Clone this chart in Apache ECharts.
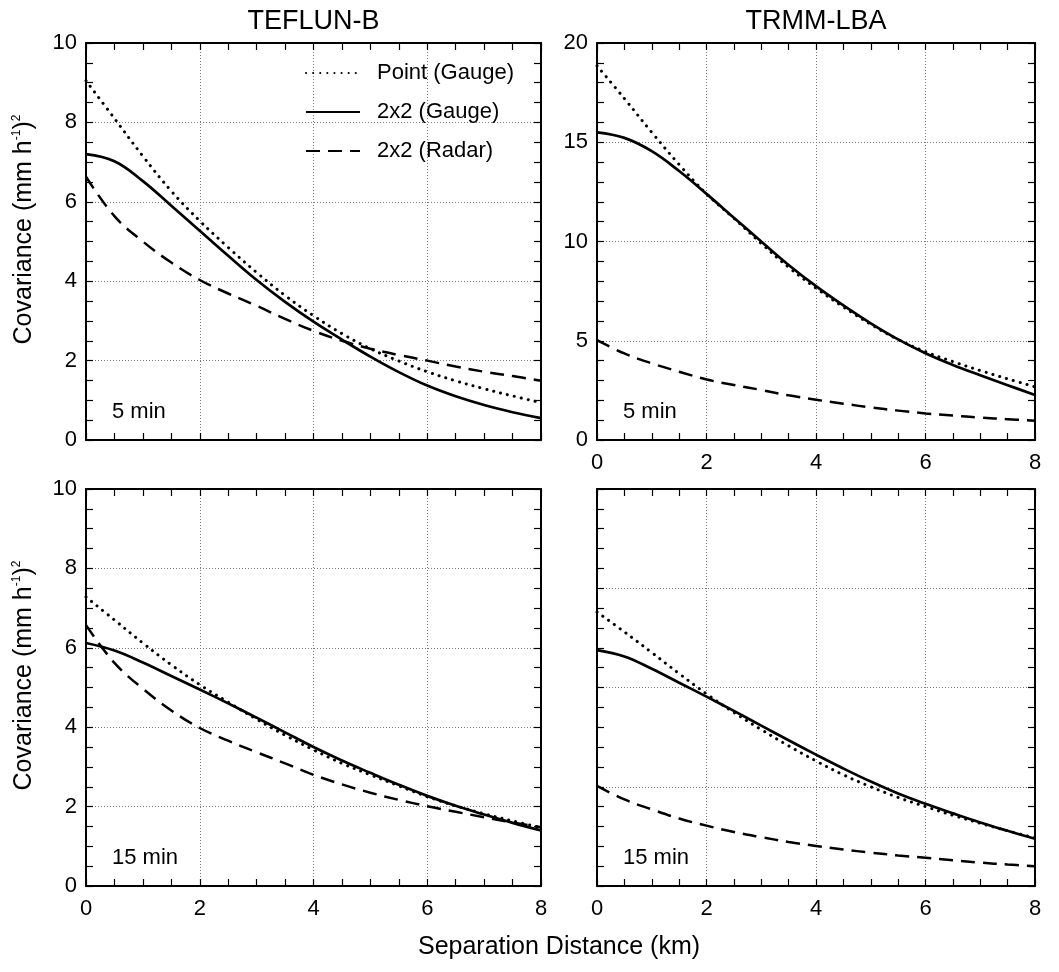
<!DOCTYPE html>
<html>
<head>
<meta charset="utf-8">
<title>Covariance vs separation distance</title>
<script src="https://cdn.jsdelivr.net/npm/echarts@6/dist/echarts.min.js"></script>
<style>
  html, body { margin: 0; padding: 0; background: #fff; }
  #chart { width: 1059px; height: 972px; }
</style>
</head>
<body>
<div id="chart"></div>
<script>
// Separation distance samples (km)
const distKm = [0, 0.5, 1, 1.5, 2, 2.5, 3, 3.5, 4, 4.5, 5, 5.5, 6, 6.5, 7, 7.5, 8];

// TEFLUN-B, 5 min accumulation
const teflun5Point = [9.05, 8.1, 7.15, 6.27, 5.52, 4.85, 4.22, 3.64, 3.13, 2.68, 2.3, 1.99, 1.72, 1.49, 1.29, 1.11, 0.94];
const teflun5Gauge = [7.2, 7.02, 6.52, 5.9, 5.27, 4.64, 4.03, 3.48, 2.98, 2.53, 2.1, 1.71, 1.37, 1.1, 0.88, 0.7, 0.55];
const teflun5Radar = [6.63, 5.64, 5.0, 4.47, 4.03, 3.69, 3.38, 3.05, 2.75, 2.5, 2.3, 2.14, 2.0, 1.85, 1.72, 1.61, 1.49];

// TRMM-LBA, 5 min accumulation
const lba5Point = [18.85, 17.2, 15.5, 13.88, 12.4, 11.17, 9.9, 8.7, 7.65, 6.7, 5.83, 5.06, 4.45, 3.95, 3.5, 3.08, 2.68];
const lba5Gauge = [15.5, 15.22, 14.55, 13.55, 12.4, 11.2, 10.0, 8.82, 7.75, 6.78, 5.88, 5.07, 4.37, 3.78, 3.26, 2.76, 2.27];
const lba5Radar = [5.03, 4.36, 3.86, 3.44, 3.05, 2.77, 2.52, 2.25, 2.03, 1.83, 1.64, 1.48, 1.34, 1.23, 1.13, 1.05, 0.97];

// TEFLUN-B, 15 min accumulation
const teflun15Point = [7.28, 6.7, 6.12, 5.57, 5.07, 4.63, 4.2, 3.8, 3.43, 3.09, 2.8, 2.52, 2.25, 2.02, 1.82, 1.64, 1.47];
const teflun15Gauge = [6.12, 5.93, 5.63, 5.29, 4.95, 4.6, 4.24, 3.87, 3.5, 3.16, 2.85, 2.55, 2.27, 2.02, 1.8, 1.59, 1.4];
const teflun15Radar = [6.57, 5.62, 4.97, 4.42, 3.98, 3.66, 3.37, 3.09, 2.8, 2.56, 2.35, 2.17, 2.01, 1.87, 1.73, 1.6, 1.48];

// TRMM-LBA, 15 min accumulation
const lba15Point = [6.9, 6.4, 5.88, 5.35, 4.84, 4.37, 3.94, 3.53, 3.15, 2.8, 2.5, 2.23, 2.0, 1.78, 1.58, 1.39, 1.21];
const lba15Gauge = [5.94, 5.78, 5.47, 5.12, 4.77, 4.41, 4.04, 3.67, 3.31, 2.96, 2.63, 2.33, 2.07, 1.83, 1.6, 1.39, 1.19];
const lba15Radar = [2.52, 2.18, 1.93, 1.7, 1.52, 1.36, 1.23, 1.11, 1.01, 0.92, 0.84, 0.77, 0.71, 0.65, 0.59, 0.54, 0.5];

// Axis ticks and labels
const xTicksKm = [0, 2, 4, 6, 8];
const yTicksTeflun = [0, 2, 4, 6, 8, 10];
const yTicksLba5 = [0, 5, 10, 15, 20];

const seriesNames = ['Point (Gauge)', '2x2 (Gauge)', '2x2 (Radar)'];
const columnTitles = ['TEFLUN-B', 'TRMM-LBA'];
const periodLabels = ['5 min', '5 min', '15 min', '15 min'];
const xAxisTitle = 'Separation Distance (km)';

const FONT = '"Liberation Sans", Arial, Helvetica, sans-serif';

// Panel layout: [top-left, top-right, bottom-left, bottom-right]
const panels = [
  { box: { left: 86, top: 43, width: 455, height: 397 }, data: [teflun5Point, teflun5Gauge, teflun5Radar],
    y: { max: 10, interval: 2, minor: 4, labels: true, ticks: yTicksTeflun }, xLabels: false, yName: true },
  { box: { left: 597, top: 43, width: 438, height: 397 }, data: [lba5Point, lba5Gauge, lba5Radar],
    y: { max: 20, interval: 5, minor: 5, labels: true, ticks: yTicksLba5 }, xLabels: true, yName: false },
  { box: { left: 86, top: 489, width: 455, height: 397 }, data: [teflun15Point, teflun15Gauge, teflun15Radar],
    y: { max: 10, interval: 2, minor: 4, labels: true, ticks: yTicksTeflun }, xLabels: true, yName: true },
  { box: { left: 597, top: 489, width: 438, height: 397 }, data: [lba15Point, lba15Gauge, lba15Radar],
    y: { max: 10, interval: 2.5, minor: 5, labels: false, ticks: [] }, xLabels: true, yName: false }
];

const lineStyles = [
  { color: '#000', width: 3, type: [0.1, 7], cap: 'round' },
  { color: '#000', width: 2.7, type: 'solid' },
  { color: '#000', width: 2.5, type: [14, 8] }
];

const frameLine = { show: true, onZero: false, lineStyle: { color: '#000', width: 2 } };
const tickStyle = { show: true, inside: true, length: 7, lineStyle: { color: '#000', width: 1.2 } };
const gridLine = { show: true, lineStyle: { color: '#7a7a7a', width: 1, type: [1, 2] } };
const labelText = { color: '#000', fontFamily: FONT, fontSize: 22 };
const minorTickOf = n => ({ show: true, splitNumber: n, length: 7, lineStyle: { color: '#000', width: 1.2 } });

const grids = [], xAxes = [], yAxes = [], series = [];

panels.forEach((p, i) => {
  grids.push(Object.assign({ containLabel: false }, p.box));
  // bottom and top x axes (frame + inward ticks)
  xAxes.push({
    type: 'value', gridIndex: i, position: 'bottom', min: 0, max: 8, interval: 2,
    axisLine: frameLine, axisTick: tickStyle, minorTick: minorTickOf(4),
    splitLine: gridLine,
    axisLabel: Object.assign({ show: p.xLabels, margin: 12,
      formatter: v => (xTicksKm.indexOf(v) >= 0 ? String(v) : '') }, labelText)
  });
  xAxes.push({
    type: 'value', gridIndex: i, position: 'top', min: 0, max: 8, interval: 2,
    axisLine: frameLine, axisTick: tickStyle, minorTick: minorTickOf(4),
    splitLine: { show: false }, axisLabel: { show: false }
  });
  // left and right y axes
  yAxes.push({
    type: 'value', gridIndex: i, position: 'left', min: 0, max: p.y.max, interval: p.y.interval,
    axisLine: frameLine, axisTick: tickStyle, minorTick: minorTickOf(p.y.minor),
    splitLine: gridLine,
    axisLabel: Object.assign({ show: p.y.labels, margin: 9,
      formatter: v => (p.y.ticks.indexOf(v) >= 0 ? String(v) : '') }, labelText),
    name: p.yName ? '{a|Covariance (mm h}{s|-1}{a|)}{s|2}' : '',
    nameLocation: 'middle', nameRotate: 90, nameGap: 49,
    nameTextStyle: {
      padding: [0, 0, 0, 24],
      rich: {
        a: { fontFamily: FONT, fontSize: 25, color: '#000', lineHeight: 26 },
        s: { fontFamily: FONT, fontSize: 12, color: '#000', verticalAlign: 'top', lineHeight: 26 }
      }
    }
  });
  yAxes.push({
    type: 'value', gridIndex: i, position: 'right', min: 0, max: p.y.max, interval: p.y.interval,
    axisLine: frameLine, axisTick: tickStyle, minorTick: minorTickOf(p.y.minor),
    splitLine: { show: false }, axisLabel: { show: false }
  });

  p.data.forEach((vals, k) => {
    series.push({
      type: 'line', name: seriesNames[k],
      xAxisIndex: 2 * i, yAxisIndex: 2 * i,
      data: distKm.map((d, j) => [d, vals[j]]),
      smooth: 0.4, symbol: 'none', silent: true,
      lineStyle: lineStyles[k], itemStyle: { color: '#000' },
      z: 3
    });
  });
});

const graphics = [];
columnTitles.forEach((t, c) => {
  const b = panels[c].box;
  graphics.push({
    type: 'text', x: b.left + b.width / 2, y: 22,
    style: { text: t, font: '27px ' + FONT, fill: '#000', textAlign: 'center', textVerticalAlign: 'middle' }
  });
});
panels.forEach((p, i) => {
  graphics.push({
    type: 'text', x: p.box.left + 26, y: p.box.top + p.box.height - 28,
    style: { text: periodLabels[i], font: '22px ' + FONT, fill: '#000', textAlign: 'left', textVerticalAlign: 'middle' }
  });
});
graphics.push({
  type: 'text', x: 559, y: 947,
  style: { text: xAxisTitle, font: '25px ' + FONT, fill: '#000', textAlign: 'center', textVerticalAlign: 'middle' }
});

const chart = echarts.init(document.getElementById('chart'), null, { renderer: 'canvas' });
chart.setOption({
  backgroundColor: '#fff',
  animation: false,
  legend: {
    data: seriesNames, orient: 'vertical', left: 300, top: 57,
    itemWidth: 54, itemHeight: 14, itemGap: 17,
    selectedMode: false,
    itemStyle: { opacity: 0 },
    textStyle: { fontFamily: FONT, fontSize: 22, color: '#000', lineHeight: 22, padding: [0, 0, 0, 12] }
  },
  grid: grids,
  xAxis: xAxes,
  yAxis: yAxes,
  series: series,
  graphic: graphics
});
</script>
</body>
</html>
